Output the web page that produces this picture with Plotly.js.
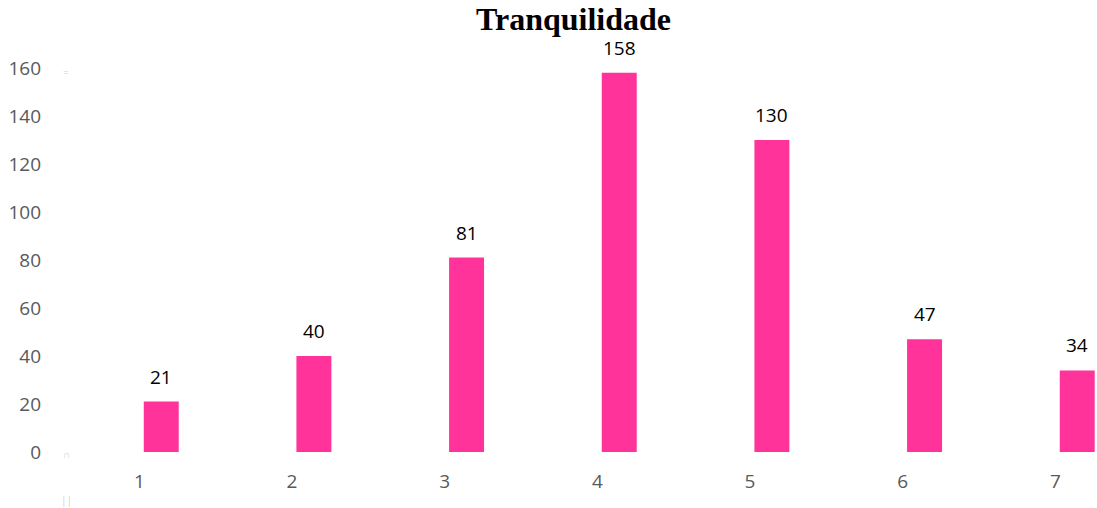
<!DOCTYPE html>
<html>
<head>
<meta charset="utf-8">
<script src="https://cdn.plot.ly/plotly-3.0.1.min.js"></script>
<style>html,body{margin:0;padding:0;background:#fff;}#chart{width:1097px;height:508px;}</style>
</head>
<body>
<div id="chart"></div>
<script>
const chartTitle = "Tranquilidade";
const categories = ["1", "2", "3", "4", "5", "6", "7"];
const values = [21, 40, 81, 158, 130, 47, 34];
const yTicks = [0, 20, 40, 60, 80, 100, 120, 140, 160];

const barColor = "#FF3399";

const trace = {
  type: "bar",
  x: categories,
  y: values,
  width: 0.229,
  offset: 0.029,
  marker: {color: barColor, line: {width: 0}},
  hoverinfo: "x+y"
};

const labelAnns = categories.map((c, i) => ({
  x: i, y: values[i], xref: "x", yref: "y",
  text: String(values[i]), showarrow: false,
  xshift: 22, yshift: 25, yanchor: "middle",
  font: {family: "Open Sans, sans-serif", size: 19, color: "#000000"}
}));

const plotL = 63, plotT = 68, plotW = 1034, plotH = 384;
const artifactAnns = [
  {text: "=", y: 72},
  {text: "∩", y: 454},
  {text: "||", y: 500}
].map(a => ({
  x: (66 - plotL) / plotW, y: 1 - (a.y - plotT) / plotH, xref: "paper", yref: "paper",
  text: a.text, showarrow: false, xanchor: "center", yanchor: "middle",
  font: {family: "Open Sans, sans-serif", size: 10, color: "#d0d0d0"}
}));

const layout = {
  width: 1097, height: 508,
  margin: {l: plotL, r: 0, t: plotT, b: 56, pad: 0},
  paper_bgcolor: "#ffffff", plot_bgcolor: "#ffffff",
  showlegend: false,
  title: {
    text: "<b>" + chartTitle + "</b>",
    font: {family: "Liberation Serif, Times New Roman, serif", size: 32, color: "#000000"},
    x: 573.5 / 1097, xref: "container", xanchor: "center",
    y: 1 - 19 / 508, yref: "container", yanchor: "middle"
  },
  xaxis: {
    type: "category",
    range: [-0.5, 6.273],
    showgrid: false, zeroline: false, showline: false,
    ticks: "", ticklabelstandoff: 16,
    tickfont: {family: "Open Sans, sans-serif", size: 19, color: "#595959"},
    fixedrange: true
  },
  yaxis: {
    range: [0, 160],
    tickvals: yTicks,
    showgrid: false, zeroline: false, showline: false,
    ticks: "", ticklabelstandoff: 21,
    tickfont: {family: "Open Sans, sans-serif", size: 19, color: "#595959"},
    fixedrange: true
  },
  annotations: labelAnns.concat(artifactAnns)
};

Plotly.newPlot("chart", [trace], layout, {displayModeBar: false, staticPlot: true});
</script>
</body>
</html>
